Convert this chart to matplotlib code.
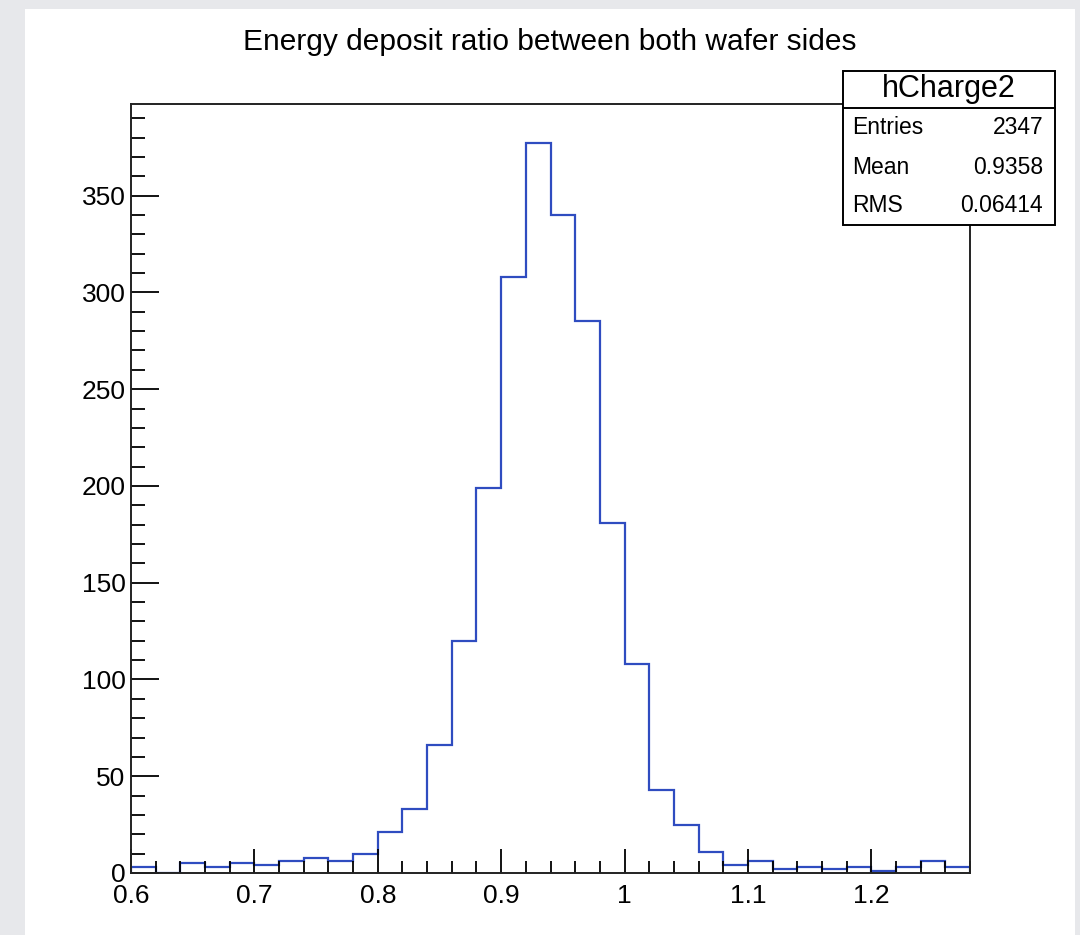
import numpy as np
import matplotlib
matplotlib.use("Agg")
import matplotlib.pyplot as plt
from matplotlib.patches import Rectangle
from matplotlib.ticker import MultipleLocator, FuncFormatter

# Histogram data (bins of 0.02 from 0.6 to 1.28)
bin_edges = np.round(np.arange(0.6, 1.2801, 0.02), 2)
counts = [3, 0, 5, 3, 5, 4, 6, 8, 6, 10,
          21, 33, 66, 120, 199, 308, 377, 340, 285, 181,
          108, 43, 25, 11, 4, 6, 2, 3, 2, 3,
          1, 3, 6, 3]

# Stats box
hist_name = "hCharge2"
stat_names = ["Entries", "Mean", "RMS"]
stat_values = ["2347", "0.9358", "0.06414"]

title = "Energy deposit ratio between both wafer sides"

plt.rcParams['font.family'] = ['Liberation Sans', 'DejaVu Sans']

W, H = 1080, 935
fig = plt.figure(figsize=(W / 100, H / 100), dpi=100, facecolor='#e7e8eb')

# white canvas on the grey slide background
fig.patches.append(Rectangle((25 / W, 0), 1050 / W, (H - 9) / H,
                             transform=fig.transFigure, facecolor='white',
                             edgecolor='none', zorder=-10))

ax = fig.add_axes([131 / W, 1 - 873 / H, (970 - 131) / W, (873 - 104) / H])
ax.set_facecolor('white')

ax.stairs(counts, bin_edges, color='#2f4cc0', linewidth=1.6, baseline=0)

ax.set_xlim(bin_edges[0], bin_edges[-1])
ax.set_ylim(0, max(counts) * 1.054)

# ROOT-like ticks: inside, only bottom and left
ax.xaxis.set_major_locator(MultipleLocator(0.1))
ax.xaxis.set_minor_locator(MultipleLocator(0.02))
ax.yaxis.set_major_locator(MultipleLocator(50))
ax.yaxis.set_minor_locator(MultipleLocator(10))
ax.xaxis.set_major_formatter(FuncFormatter(lambda v, p: f"{v:g}"))
ax.tick_params(axis='both', which='both', direction='in', top=False, right=False,
               colors='black', labelsize=19)
ax.tick_params(axis='x', which='major', length=17, width=1.3, pad=8)
ax.tick_params(axis='x', which='minor', length=8.5, width=1.3)
ax.tick_params(axis='y', which='major', length=20, width=1.3, pad=4)
ax.tick_params(axis='y', which='minor', length=10, width=1.3)
for s in ax.spines.values():
    s.set_linewidth(1.4)
    s.set_color('#222222')

fig.text(550 / W, 1 - 42 / H, title, ha='center', va='center', fontsize=21.5)

# stats box (drawn over the axes frame)
bx0, bx1 = 843 / W, 1055 / W
by_top, by_mid, by_bot = 1 - 71 / H, 1 - 108 / H, 1 - 225 / H
fig.patches.append(Rectangle((bx0, by_bot), bx1 - bx0, by_top - by_bot,
                             transform=fig.transFigure, facecolor='white',
                             edgecolor='black', linewidth=1.4, zorder=5))
fig.add_artist(plt.Line2D([bx0, bx1], [by_mid, by_mid], transform=fig.transFigure,
                          color='black', linewidth=1.4, zorder=6))
fig.text((bx0 + bx1) / 2, (by_top + by_mid) / 2, hist_name, ha='center', va='center',
         fontsize=22, zorder=7)
row_y = [128, 167, 206]
for name, val, ry in zip(stat_names, stat_values, row_y):
    fig.text(852 / W, 1 - ry / H, name, ha='left', va='center', fontsize=16.5, zorder=7)
    fig.text(1043 / W, 1 - ry / H, val, ha='right', va='center', fontsize=16.5, zorder=7)

fig.savefig('out.png', dpi=100, facecolor=fig.get_facecolor())
